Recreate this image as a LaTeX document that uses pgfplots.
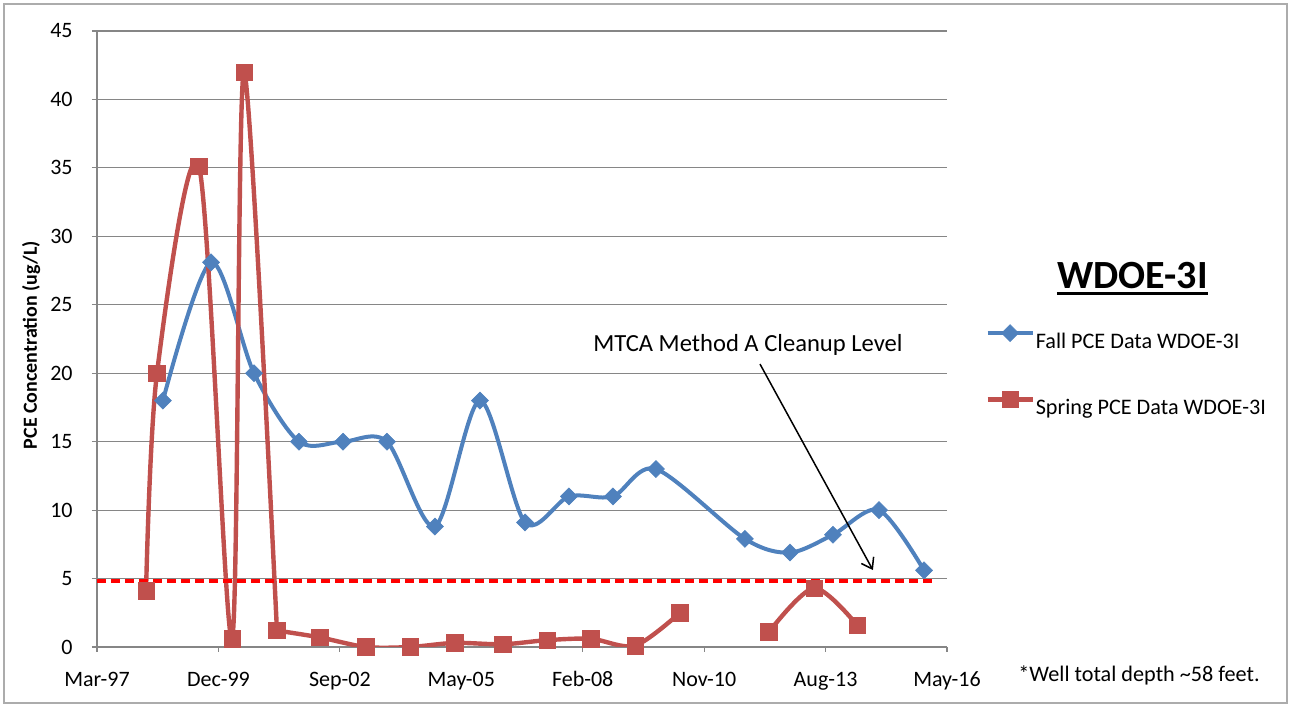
\documentclass[border=0pt]{standalone}
\usepackage{pgfplots}
\pgfplotsset{compat=1.18}
\usepackage{pgfplotstable}
\usepackage{fontspec}
\setmainfont{Carlito}
\usetikzlibrary{arrows.meta}
\definecolor{fallblue}{HTML}{4F81BD}
\definecolor{springred}{HTML}{C0504D}
\definecolor{gridgray}{HTML}{868686}

% x = Excel date serial (days), y = PCE (ug/L)
\pgfplotstableread{
x y
36043 18
36439 28.1
36793 20
37163 15
37526 15
37888 15
38283 8.8
38654 18
39025 9.1
39387 11
39749 11
40103 13
40836 7.9
41207 6.9
41561 8.2
41940 10
42311 5.6
}\falldata

\pgfplotstableread{
x y
35904 4.1
35994 20
36340 35.1
36612 0.6
36711 42
36982 1.2
}\springdataA

\pgfplotstableread{
x y
36982 1.2
37336 0.7
37715 0
38078 0
38448 0.3
38843 0.2
39206 0.5
39568 0.6
39931 0.1
40301 2.5
}\springdataAA

\pgfplotstableread{
x y
41034 1.1
41405 4.3
41759 1.6
}\springdataB

\begin{document}
\begin{tikzpicture}
\useasboundingbox (-48.5pt,-29.5pt) rectangle (597pt,323.5pt);
\draw[color=gray!65, line width=0.6pt] (-46.5pt,-28pt) rectangle (595pt,321.5pt);
\begin{axis}[
  scale only axis, width=425pt, height=308pt,
  xmin=35500, xmax=42500, ymin=0, ymax=45,
  axis x line=bottom, axis y line=left,
  axis line style={-, gridgray, line width=0.6pt},
  xtick={35500,36500,...,42500},
  xticklabels={Mar-97,Dec-99,Sep-02,May-05,Feb-08,Nov-10,Aug-13,May-16},
  ytick={0,5,...,45},
  ymajorgrids, grid style={gridgray, line width=0.6pt},
  tick align=outside, major tick length=2.5pt,
  tick style={gridgray, line width=0.6pt},
  ticklabel style={font=\fontsize{11}{13}\selectfont},
  xticklabel style={anchor=base, inner sep=0pt, yshift=-17.5pt},
  yticklabel style={anchor=east, inner sep=0pt, xshift=-9.5pt},
  /pgf/number format/assume math mode=true,
  ylabel={PCE Concentration (ug/L)},
  every axis y label/.style={at={(axis description cs:-0.0776,0.49)}, rotate=90, anchor=center, font=\bfseries\fontsize{10}{12}\selectfont},
  legend style={at={(1.0447,0.4505)}, anchor=west, draw=none, fill=none,
    font=\fontsize{11.1}{13}\selectfont, inner sep=0pt, row sep=21.5pt, column sep=0.5pt,
    nodes={inner sep=0pt, text height=8pt, text depth=0pt}},
  legend cell align=left,
  legend image code/.code={\draw[mark repeat=2,mark phase=2,#1] plot coordinates {(0pt,3.5pt) (11.25pt,3.5pt) (22.5pt,3.5pt)};},
]
\addplot[fallblue, line width=2pt, smooth, tension=0.5, mark=square*,
  mark size=3pt, mark options={rotate=45, solid, line width=0.3pt, fill=fallblue, draw=fallblue}]
  table[x=x,y=y] {\falldata};
\addlegendentry{Fall PCE Data WDOE-3I}
\addplot[springred, line width=2.2pt, smooth, tension=0.5, mark=square*,
  mark size=4.1pt, mark options={solid, line width=0.3pt, fill=springred, draw=springred}]
  table[x=x,y=y] {\springdataA};
\addlegendentry{Spring PCE Data WDOE-3I}
\addplot[springred, line width=2.2pt, smooth, tension=0.5, mark=square*, forget plot,
  mark size=4.1pt, mark options={solid, line width=0.3pt, fill=springred, draw=springred}]
  table[x=x,y=y] {\springdataAA};
\addplot[springred, line width=2.2pt, smooth, tension=0.5, mark=square*, forget plot,
  mark size=4.1pt, mark options={solid, line width=0.3pt, fill=springred, draw=springred}]
  table[x=x,y=y] {\springdataB};
\addplot[red, line width=2pt, dash pattern=on 4.7pt off 2.3pt, forget plot]
  coordinates {(35500,4.8) (42385,4.8)};
\node[anchor=base, inner sep=0pt, font=\fontsize{12.3}{14}\selectfont] at (axis cs:40861,21.57) {MTCA Method A Cleanup Level};
\draw[black, line width=0.75pt, -{Straight Barb[length=5pt,width=7pt]}] (axis cs:40960,20.67) -- (axis cs:41890,5.62);
\end{axis}
\node[anchor=base, inner sep=0pt, font=\bfseries\fontsize{20}{22}\selectfont] (T) at (517.75pt,179pt) {WDOE-3I};
\draw[line width=1.5pt] ([yshift=-2.2pt]T.base west) -- ([yshift=-2.2pt]T.base east);
\node[anchor=base west, inner sep=0pt, font=\fontsize{11.1}{13}\selectfont] at (460.5pt,-17.5pt) {*Well total depth \textasciitilde58 feet.};
\end{tikzpicture}
\end{document}
